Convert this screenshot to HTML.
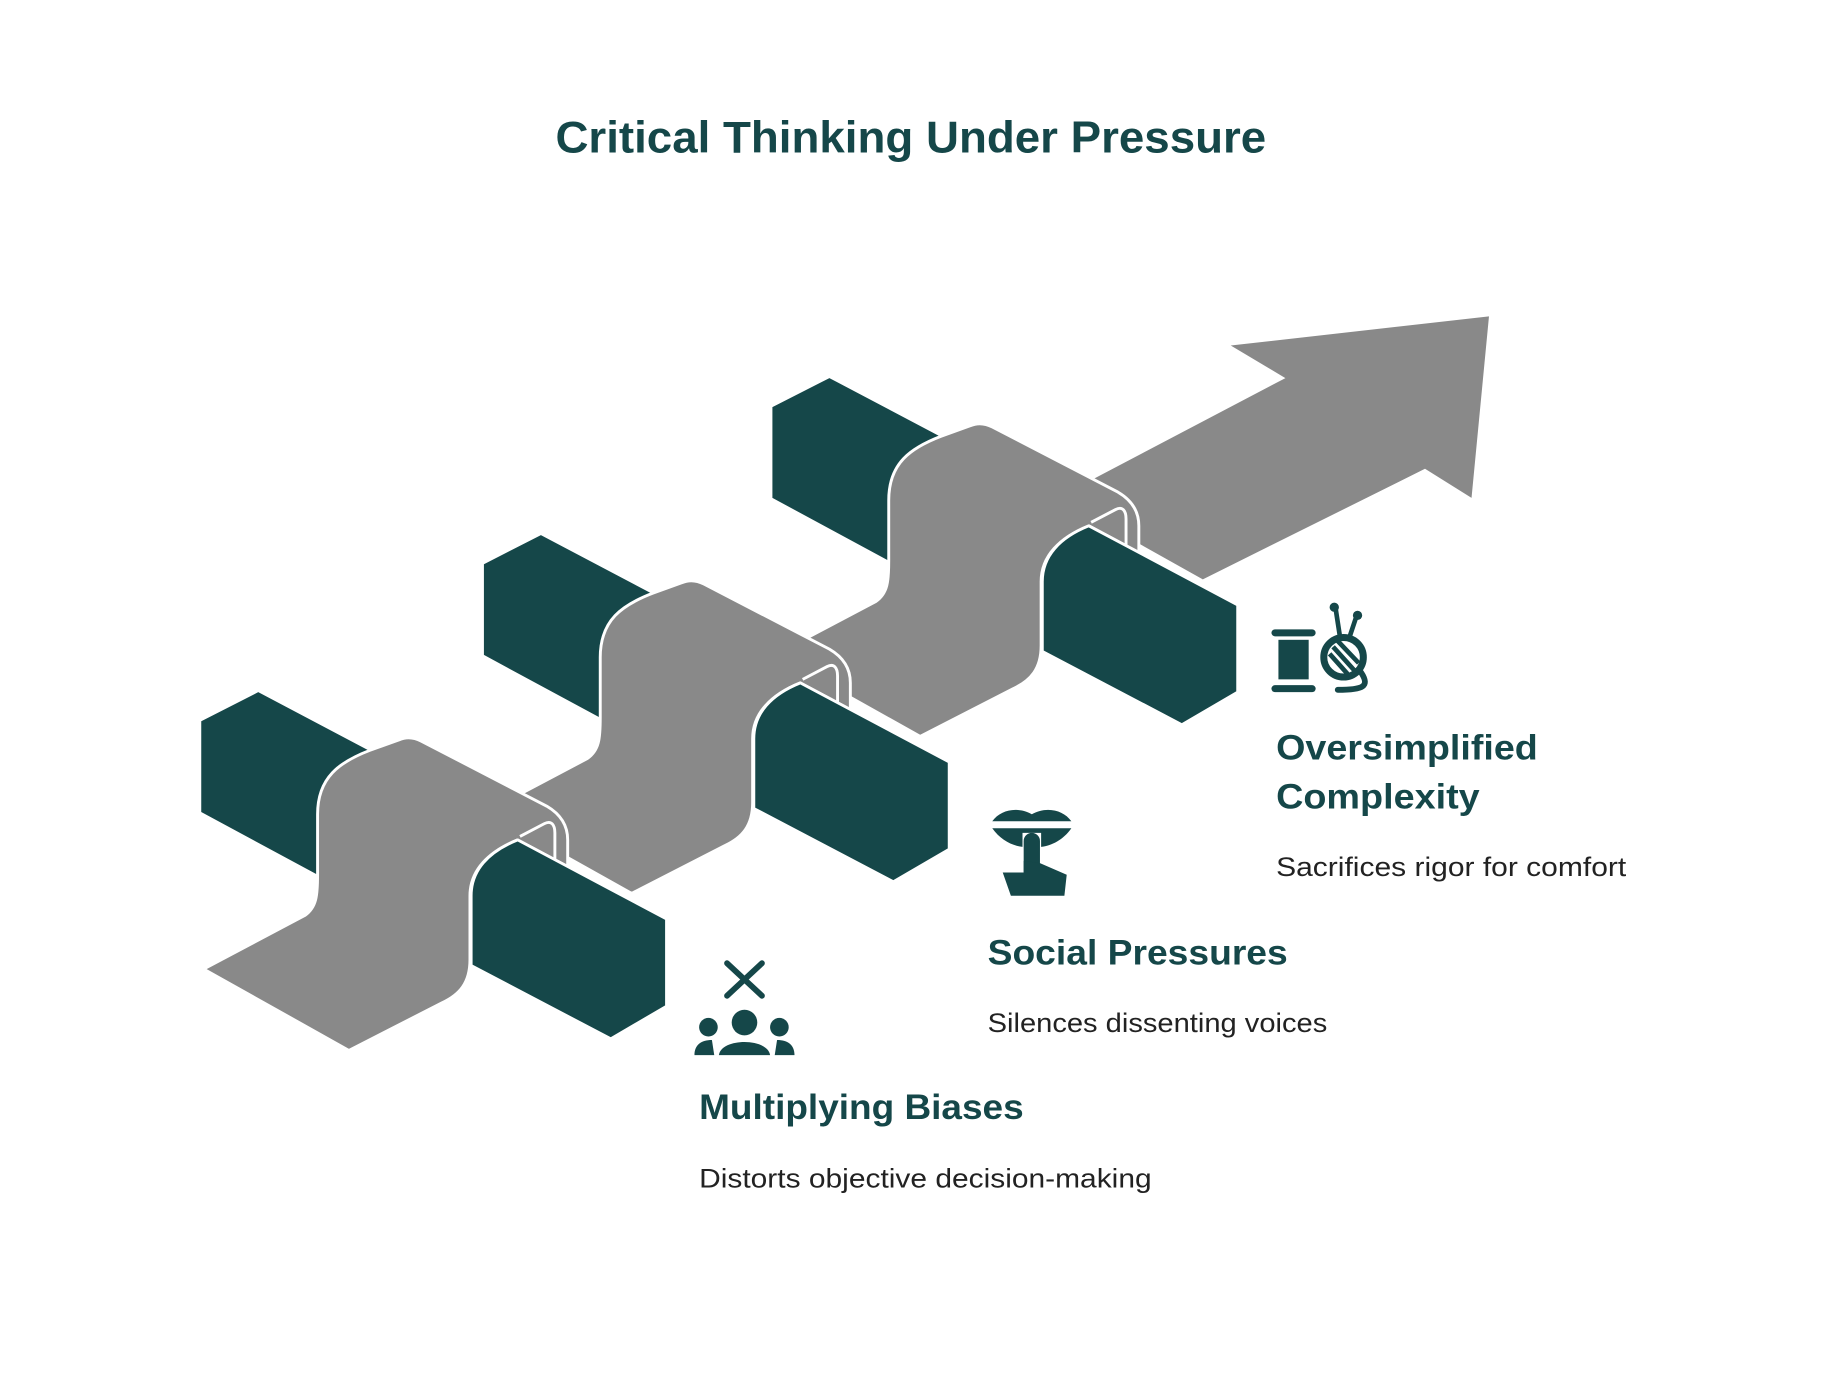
<!DOCTYPE html>
<html><head><meta charset="utf-8"><style>html,body{margin:0;padding:0;background:#fff;}svg{display:block}</style></head>
<body>
<svg width="1824" height="1387" viewBox="0 0 1568 1192.3" preserveAspectRatio="none" xmlns="http://www.w3.org/2000/svg">
<defs>
<g id="back"><path d="M173,620 L222,595 L330,652 L300,700 L280,756 L273,752 L173,698 Z" fill="#154749"/></g>
<g id="band"><path d="M175,833 L262,787 C272,780 273,770 273,752 L273,700 C273,668 292,655 318,645 L343,636 C350,633 356,634 362,637 L470,693 C482,700 488,710 488,722 L488,745 L445,722 C420,732 404,748 404,770 L404,825 C404,845 395,855 380,862 L300,903 Z" fill="#898989" stroke="#fff" stroke-width="2.5" stroke-linejoin="round"/>
<path d="M447,719 L468,708 C474,705 477,709 477,716 L477,740" fill="none" stroke="#fff" stroke-width="2.5"/></g>
<g id="front"><path d="M445,722 L573,790 L573,865 L525,893 L405,830 L405,770 C405,748 420,732 445,722 Z" fill="#154749" stroke="#fff" stroke-width="2.5" stroke-linejoin="round"/></g>
</defs>
<text x="783" y="131" text-anchor="middle" font-family="Liberation Sans, sans-serif" font-weight="bold" font-size="38" fill="#154749" textLength="611" lengthAdjust="spacingAndGlyphs">Critical Thinking Under Pressure</text>

<path d="M909,428 L1105,325 L1058,297 L1280,272 L1265,428 L1225,403 L1034,498 Z" fill="#898989"/>
<g transform="translate(491,-270)"><use href="#back"/><use href="#band"/><use href="#front"/></g>
<g transform="translate(243,-135)"><use href="#back"/><use href="#band"/><use href="#front"/></g>
<g><use href="#back"/><use href="#band"/><use href="#front"/></g>

<!-- icon: spool + yarn -->
<g fill="#154749" stroke="#154749">
<rect x="1093" y="541" width="38" height="6" rx="3" stroke="none"/>
<rect x="1099" y="550" width="26" height="34" stroke="none"/>
<rect x="1093" y="589" width="38" height="6" rx="3" stroke="none"/>
<circle cx="1155" cy="565" r="17" fill="none" stroke-width="6"/>
<path d="M1146,556 L1164,576 M1150,551 L1168,570 M1143,562 L1159,580" stroke-width="4"/>
<path d="M1148,522 L1152,548 M1166,530 L1160,548" stroke-width="4"/>
<circle cx="1147" cy="522" r="4" stroke="none"/><circle cx="1167" cy="529" r="4" stroke="none"/>
<path d="M1170,578 C1178,590 1172,593 1150,593" fill="none" stroke-width="5" stroke-linecap="round"/>
</g>
<!-- icon: shush -->
<g fill="#154749">
<path d="M853,706 C860,696 875,693 887,700 C899,693 914,696 921,706 Z"/>
<path d="M853,712 L921,712 C914,722 904,727 895,728 L895,716 L879,716 L879,728 C870,727 860,722 853,712 Z"/>
<rect x="880" y="716" width="14" height="40" rx="7"/>
<path d="M862,750 L880,750 L880,740 L894,742 L917,752 L915,770 L869,770 Z"/>
</g>
<!-- icon: people with X -->
<g fill="#154749" stroke="#154749">
<path d="M625,828 L655,856 M655,828 L625,856" stroke-width="5" stroke-linecap="round"/>
<circle cx="640" cy="879" r="11" stroke="none"/>
<circle cx="609" cy="883" r="8" stroke="none"/>
<circle cx="670" cy="883" r="8" stroke="none"/>
<path d="M618,907 C620,892 660,892 662,907 Z" stroke="none"/>
<path d="M597,907 C597,898 603,894 612,894 L614,907 Z M683,907 C683,898 677,894 668,894 L666,907 Z" stroke="none"/>
</g>

<g font-family="Liberation Sans, sans-serif">
<text x="1097" y="653" font-weight="bold" font-size="30" fill="#154749" textLength="225" lengthAdjust="spacingAndGlyphs">Oversimplified</text>
<text x="1097" y="695" font-weight="bold" font-size="30" fill="#154749" textLength="175" lengthAdjust="spacingAndGlyphs">Complexity</text>
<text x="1097" y="753" font-size="23" fill="#222" textLength="301" lengthAdjust="spacingAndGlyphs">Sacrifices rigor for comfort</text>
<text x="849" y="829" font-weight="bold" font-size="30" fill="#154749" textLength="258" lengthAdjust="spacingAndGlyphs">Social Pressures</text>
<text x="849" y="887" font-size="23" fill="#222" textLength="292" lengthAdjust="spacingAndGlyphs">Silences dissenting voices</text>
<text x="601" y="962" font-weight="bold" font-size="30" fill="#154749" textLength="279" lengthAdjust="spacingAndGlyphs">Multiplying Biases</text>
<text x="601" y="1021" font-size="23" fill="#222" textLength="389" lengthAdjust="spacingAndGlyphs">Distorts objective decision-making</text>
</g>
</svg>
</body></html>
